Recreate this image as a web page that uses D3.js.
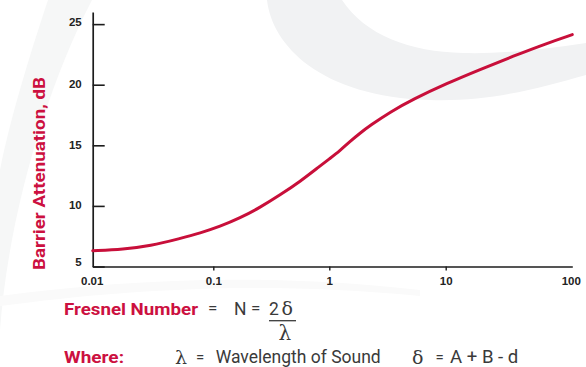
<!DOCTYPE html>
<html>
<head>
<meta charset="utf-8">
<script src="https://cdn.jsdelivr.net/npm/d3@7"></script>
<style>
  html, body { margin: 0; padding: 0; background: #ffffff; }
  svg { display: block; }
</style>
</head>
<body>
<svg id="chart" width="586" height="367"></svg>
<script>
// ---- data ----
const fresnelN = [0.01, 0.018, 0.03, 0.053, 0.078, 0.114, 0.17, 0.253, 0.376, 0.56, 0.83, 1.01, 1.24, 1.5, 1.84, 2.24, 3.32, 5.27, 10.2, 18.7, 34.2, 62.8, 100];
const attenuationDb = [6.30, 6.42, 6.69, 7.31, 7.76, 8.30, 9.00, 9.87, 10.90, 12.01, 13.29, 13.91, 14.57, 15.31, 16.01, 16.63, 17.74, 18.81, 20.11, 21.26, 22.36, 23.41, 24.13];
const xTickValues = [0.01, 0.1, 1, 10, 100];
const xTickLabels = ["0.01", "0.1", "1", "10", "100"];
const yTickValues = [5, 10, 15, 20, 25];
const yTitle = "Barrier Attenuation, dB";

const RED = "#cc1040";
const INK = "#1c1c1c";
const TXT = "#3a3a3a";

const svg = d3.select("#chart");

// ---- decorative background swooshes ----
const bg = svg.append("g");
bg.append("path")
  .attr("d", "M267,0 C272,45 320,97 430,100 C490,102 540,88 586,75 L586,43 C540,50 500,54 463,53 C410,52 365,35 342,0 Z")
  .attr("fill", "#f1f2f3");
bg.append("path")
  .attr("d", "M48,0 C28,60 10,120 0,170 L0,330 C8,220 45,90 92,0 Z")
  .attr("fill", "#f6f7f7");
bg.append("path")
  .attr("d", "M0,296 C120,280 260,272 420,290 L420,296 C260,280 120,290 0,306 Z")
  .attr("fill", "#fafafa");

// ---- scales ----
const x = d3.scaleLog()
  .domain([0.01, 0.1, 1, 10, 100])
  .range([92.7, 213.3, 329.3, 445.7, 572.3]);
const y = d3.scaleLinear()
  .domain([5, 26])
  .range([266.5, 12]);

// ---- axes ----
const yAxis = d3.axisLeft(y)
  .tickValues(yTickValues)
  .tickSizeInner(-12)
  .tickSizeOuter(0)
  .tickPadding(11)
  .tickFormat(d3.format("d"));
const gy = svg.append("g")
  .attr("transform", "translate(92.7,0)")
  .call(yAxis);
gy.select(".domain").attr("stroke", INK).attr("stroke-width", 1.7);
gy.selectAll(".tick line").attr("stroke", INK).attr("stroke-width", 1.6);
gy.selectAll(".tick text")
  .attr("fill", "#222")
  .attr("font-family", "'Liberation Sans', Arial, sans-serif")
  .attr("font-weight", "bold")
  .attr("font-size", 11.5)
  .attr("dy", d => d === 5 ? "-0.05em" : (d === 25 ? "0.1em" : "0.25em"));

const xAxis = d3.axisBottom(x)
  .tickValues(xTickValues)
  .tickSizeInner(4)
  .tickSizeOuter(0)
  .tickPadding(6)
  .tickFormat((d, i) => xTickLabels[i]);
const gx = svg.append("g")
  .attr("transform", "translate(0,266.5)")
  .call(xAxis);
gx.select(".domain").attr("stroke", INK).attr("stroke-width", 1.7);
gx.selectAll(".tick line")
  .attr("stroke", INK).attr("stroke-width", 1.4)
  .attr("display", d => (d === 0.01 || d === 100) ? "none" : null);
gx.selectAll(".tick text")
  .attr("fill", "#222")
  .attr("font-family", "'Liberation Sans', Arial, sans-serif")
  .attr("font-weight", "bold")
  .attr("font-size", 11.5)
  .attr("dx", d => d === 0.01 ? -1 : (d === 100 ? -1.5 : 0));

// ---- y title ----
svg.append("text")
  .attr("transform", "translate(44.5,173.5) rotate(-90)")
  .attr("text-anchor", "middle")
  .attr("font-family", "Roboto, sans-serif")
  .attr("font-weight", 700)
  .attr("font-size", 16.5)
  .attr("fill", RED)
  .attr("textLength", 193)
  .attr("lengthAdjust", "spacingAndGlyphs")
  .text(yTitle);

// ---- curve ----
const pts = fresnelN.map((n, i) => [n, attenuationDb[i]]);
const line = d3.line()
  .x(d => x(d[0]))
  .y(d => y(d[1]))
  .curve(d3.curveBasis);
svg.append("path")
  .datum(pts)
  .attr("d", line)
  .attr("fill", "none")
  .attr("stroke", "#c80f3a")
  .attr("stroke-width", 3)
  .attr("stroke-linecap", "round")
  .attr("stroke-linejoin", "round");

// ---- formula block ----
const f = svg.append("g");
const sans = "Roboto, sans-serif";
const serif = "'DejaVu Serif', 'Liberation Serif', serif";

f.append("text").attr("x", 64).attr("y", 315)
  .attr("font-family", sans).attr("font-weight", 700).attr("font-size", 16.5)
  .attr("fill", RED).attr("textLength", 134).attr("lengthAdjust", "spacingAndGlyphs")
  .text("Fresnel Number");
f.append("text").attr("x", 208).attr("y", 314)
  .attr("font-family", sans).attr("font-size", 17).attr("fill", TXT)
  .text("=");
f.append("text").attr("x", 234).attr("y", 315)
  .attr("font-family", sans).attr("font-size", 17.5).attr("fill", TXT)
  .text("N");
f.append("text").attr("x", 251).attr("y", 314)
  .attr("font-family", sans).attr("font-size", 17).attr("fill", TXT)
  .text("=");
f.append("text").attr("x", 269).attr("y", 315)
  .attr("font-family", sans).attr("font-size", 17.5).attr("fill", TXT)
  .text("2");
f.append("text").attr("x", 281.5).attr("y", 315)
  .attr("font-family", serif).attr("font-size", 19).attr("fill", TXT)
  .text("δ");
f.append("line").attr("x1", 269).attr("x2", 296).attr("y1", 320.7).attr("y2", 320.7)
  .attr("stroke", TXT).attr("stroke-width", 1.3);
f.append("text").attr("x", 278.5).attr("y", 340)
  .attr("font-family", serif).attr("font-size", 20).attr("fill", TXT)
  .text("λ");

f.append("text").attr("x", 64).attr("y", 363.3)
  .attr("font-family", sans).attr("font-weight", 700).attr("font-size", 16.5)
  .attr("fill", RED).attr("textLength", 60).attr("lengthAdjust", "spacingAndGlyphs")
  .text("Where:");
f.append("text").attr("x", 175).attr("y", 363.5)
  .attr("font-family", serif).attr("font-size", 19).attr("fill", TXT)
  .text("λ");
f.append("text").attr("x", 196).attr("y", 362)
  .attr("font-family", sans).attr("font-size", 15).attr("fill", TXT)
  .text("=");
f.append("text").attr("x", 215.7).attr("y", 363.3)
  .attr("font-family", sans).attr("font-size", 17.5).attr("fill", TXT)
  .attr("textLength", 165).attr("lengthAdjust", "spacingAndGlyphs")
  .text("Wavelength of Sound");
f.append("text").attr("x", 412).attr("y", 363.5)
  .attr("font-family", serif).attr("font-size", 19).attr("fill", TXT)
  .text("δ");
f.append("text").attr("x", 435.5).attr("y", 362)
  .attr("font-family", sans).attr("font-size", 15).attr("fill", TXT)
  .text("=");
f.append("text").attr("x", 450).attr("y", 363.3)
  .attr("font-family", sans).attr("font-size", 17.5).attr("fill", TXT)
  .attr("textLength", 68.3).attr("lengthAdjust", "spacingAndGlyphs")
  .text("A + B - d");
</script>
</body>
</html>
